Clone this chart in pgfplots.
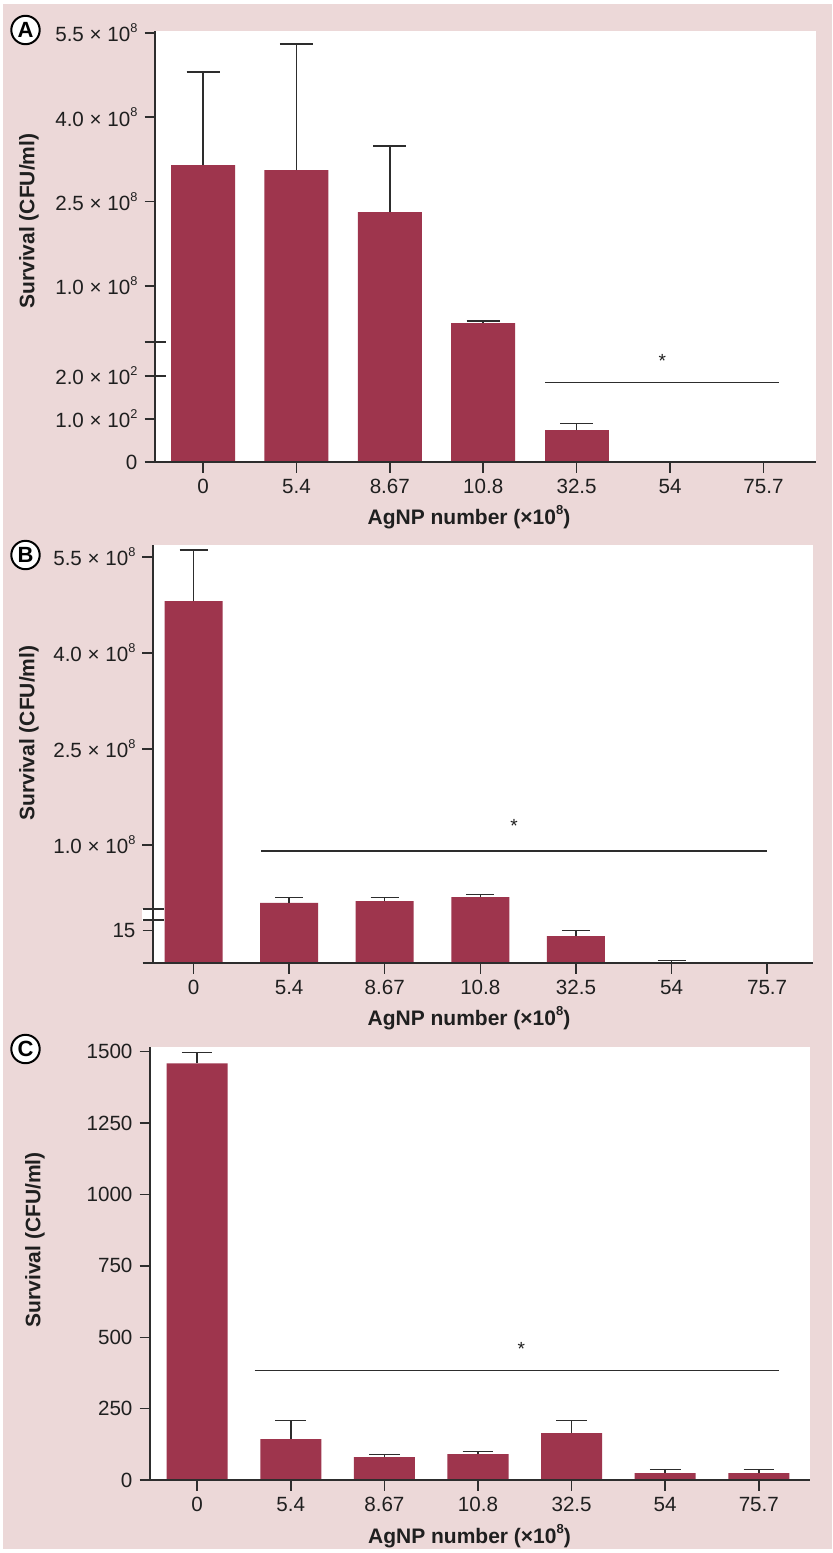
\documentclass[border=0pt]{standalone}
\usepackage{fontspec}
\setmainfont{Liberation Sans}
\setsansfont{Liberation Sans}
\usepackage{graphicx}
\usepackage{pgfplots}
\pgfplotsset{compat=1.18}
\definecolor{bgpink}{RGB}{236,216,216}
\definecolor{barred}{RGB}{158,53,77}
\definecolor{axiscol}{RGB}{45,45,45}
\newcommand{\sups}[1]{\raisebox{0.85ex}{\scalebox{0.62}{#1}}}
\newcommand{\ytl}[2]{#1 × 10\sups{#2}}
\pgfplotsset{
  mybase/.style={
    scale only axis,
    anchor=south west,
    clip mode=individual,
    axis background/.style={fill=white},
    axis on top,
    axis line style={-, line width=0.75pt, color=axiscol},
    tick style={line width=0.75pt, color=axiscol},
    major tick length=5.25pt,
    tick align=outside,
    tick label style={font=\fontsize{10.3}{12}\selectfont, text=black!88},
    label style={font=\fontsize{10.5}{12}\selectfont\bfseries, text=black!88},
    scaled y ticks=false,
    minor tick num=0,
  },
  bars/.style={ybar, bar shift=0pt, fill=barred, draw=none},
  errs/.style={/pgfplots/error bars/y dir=plus, /pgfplots/error bars/y explicit,
    /pgfplots/error bars/error bar style={line width=0.75pt, color=axiscol},
    /pgfplots/error bars/error mark options={rotate=90, line width=0.75pt, color=axiscol, mark size=#1}},
}
\tikzset{brk/.style={line width=0.75pt, color=axiscol},
  star/.style={font=\fontsize{9.5}{11}\selectfont, text=black!88, anchor=base, inner sep=0pt},
  letter/.style={circle, draw=black, line width=1pt, fill=white, inner sep=0pt, minimum size=14.2pt, font=\fontsize{11}{12}\selectfont\bfseries}}
\begin{document}
\begin{tikzpicture}
\useasboundingbox (0,0) rectangle (416pt,-776.5pt);
\fill[white] (0,0) rectangle (416pt,-776.5pt);
\fill[bgpink] (1.5pt,-2pt) rectangle (416pt,-774.5pt);
\fill[white] (71pt,-454.5pt) rectangle (76.5pt,-460.35pt);

% ---------------- Panel A ----------------
\begin{axis}[mybase, at={(77.5pt,-171pt)}, width=330.5pt, height=155.5pt,
  xmin=-0.514, xmax=6.563, ymin=0, ymax=5.534e8,
  axis x line=none, axis y line*=left, xtick=\empty,
  ytick={1e8,2.5e8,4e8,5.5e8},
  yticklabels={\ytl{1.0}{8},\ytl{2.5}{8},\ytl{4.0}{8},\ytl{5.5}{8}},
  ylabel={Survival (CFU/ml)},
  ylabel style={at={(axis description cs:-0.1906,0.389)}, anchor=center}]
\addplot[bars, bar width=0.685, errs=8.25pt] coordinates {
  (0,3.149e8) +- (0,1.655e8)
  (1,3.060e8) +- (0,2.242e8)
  (2,2.313e8) +- (0,1.175e8)
  (3,0.338e8) +- (0,0.036e8)
};
\end{axis}
\begin{axis}[mybase, at={(77.5pt,-231pt)}, width=330.5pt, height=60pt,
  xmin=-0.514, xmax=6.563, ymin=0, ymax=279,
  axis x line*=bottom, axis y line*=left,
  xtick={0,...,6}, xticklabels={0,5.4,8.67,10.8,32.5,54,75.7},
  ytick={0,100,200}, yticklabels={0,\ytl{1.0}{2},\ytl{2.0}{2}},
  xlabel={AgNP number (×10\sups{8})},
  xlabel style={at={(axis description cs:0.5,0)}, anchor=base, yshift=-31pt, xshift=-8.25pt}]
\addplot[bars, bar width=0.685, restrict y to domain*=0:300] coordinates {
  (0,3.149e8) (1,3.060e8) (2,2.313e8) (3,0.338e8) (5,0) (6,0)
};
\addplot[bars, bar width=0.685, errs=8.25pt] coordinates {
  (4,74.4) +- (0,14.6)
};
\draw[brk] ([xshift=-5.25pt]axis description cs:0,1) -- ([xshift=5.5pt]axis description cs:0,1);
\draw[brk] (axis cs:-0.514,200) -- ([xshift=5.5pt]axis cs:-0.514,200);
\draw[brk] (axis cs:3.662,184.4) -- (axis cs:6.167,184.4);
\node[star] at (axis cs:4.918,219.3) {*};
\end{axis}
\node[letter] at (12.75pt,-15pt) {A};

% ---------------- Panel B ----------------
\begin{axis}[mybase, at={(76.5pt,-454.5pt)}, width=330pt, height=182pt,
  xmin=-0.424, xmax=6.48, ymin=0, ymax=5.6875e8,
  axis x line=none, axis y line*=left, xtick=\empty,
  ytick={1e8,2.5e8,4e8,5.5e8},
  yticklabels={\ytl{1.0}{8},\ytl{2.5}{8},\ytl{4.0}{8},\ytl{5.5}{8}},
  ylabel={Survival (CFU/ml)},
  ylabel style={at={(axis description cs:-0.1879,0.4835)}, anchor=center}]
\addplot[bars, bar width=0.607, errs=7pt] coordinates {
  (0,4.8125e8) +- (0,0.797e8)
  (1,0.094e8) +- (0,0.089e8)
  (2,0.125e8) +- (0,0.058e8)
  (3,0.1875e8) +- (0,0.036e8)
};
\draw[brk] (axis cs:0.706,0.906e8) -- (axis cs:6.0,0.906e8);
\node[star] at (axis cs:3.353,1.203e8) {*};
\end{axis}
\begin{axis}[mybase, at={(76.5pt,-481.5pt)}, width=330pt, height=27pt,
  xmin=-0.424, xmax=6.48, ymin=0, ymax=25.08,
  axis x line*=bottom, axis y line*=left,
  xtick={0,...,6}, xticklabels={0,5.4,8.67,10.8,32.5,54,75.7},
  ytick={0,15}, yticklabels={{},15},
  xlabel={AgNP number (×10\sups{8})},
  xlabel style={at={(axis description cs:0.5,0)}, anchor=base, yshift=-31pt, xshift=-7pt}]
\addplot[bars, bar width=0.607, restrict y to domain*=0:30] coordinates {
  (0,4.8125e8) (1,0.094e8) (2,0.125e8) (3,0.1875e8) (6,0)
};
\addplot[bars, bar width=0.607, errs=7pt] coordinates {
  (4,12.54) +- (0,2.46)
  (5,0) +- (0,1.25)
};
\draw[brk] ([xshift=-5.25pt]axis description cs:0,1) -- ([xshift=5.5pt]axis description cs:0,1);
\draw[brk] ([xshift=-5.25pt]axis cs:-0.424,20) -- ([xshift=5.5pt]axis cs:-0.424,20);
\end{axis}
\node[letter] at (12.75pt,-277.5pt) {B};

% ---------------- Panel C ----------------
\begin{axis}[mybase, at={(75pt,-740pt)}, width=330pt, height=216.65pt,
  xmin=-0.504, xmax=6.547, ymin=0, ymax=1517.5,
  axis x line*=bottom, axis y line*=left,
  xtick={0,...,6}, xticklabels={0,5.4,8.67,10.8,32.5,54,75.7},
  ytick={0,250,500,750,1000,1250,1500}, yticklabels={0,250,500,750,1000,1250,1500},
  xlabel={AgNP number (×10\sups{8})},
  xlabel style={at={(axis description cs:0.5,0)}, anchor=base, yshift=-31.5pt, xshift=-5.25pt},
  ylabel={Survival (CFU/ml)},
  ylabel style={at={(axis description cs:-0.1742,0.554)}, anchor=center}]
\addplot[bars, bar width=0.652, errs=7.65pt] coordinates {
  (0,1459.5) +- (0,37.5)
  (1,143.6) +- (0,64)
  (2,80.6) +- (0,9.4)
  (3,91.1) +- (0,9.4)
  (4,164.6) +- (0,43)
  (5,24.5) +- (0,13)
  (6,24.5) +- (0,13)
};
\draw[brk] (axis cs:0.615,382.8) -- (axis cs:6.221,382.8);
\node[star] at (axis cs:3.462,437.8) {*};
\end{axis}
\node[letter] at (12.75pt,-524.5pt) {C};
\end{tikzpicture}
\end{document}
